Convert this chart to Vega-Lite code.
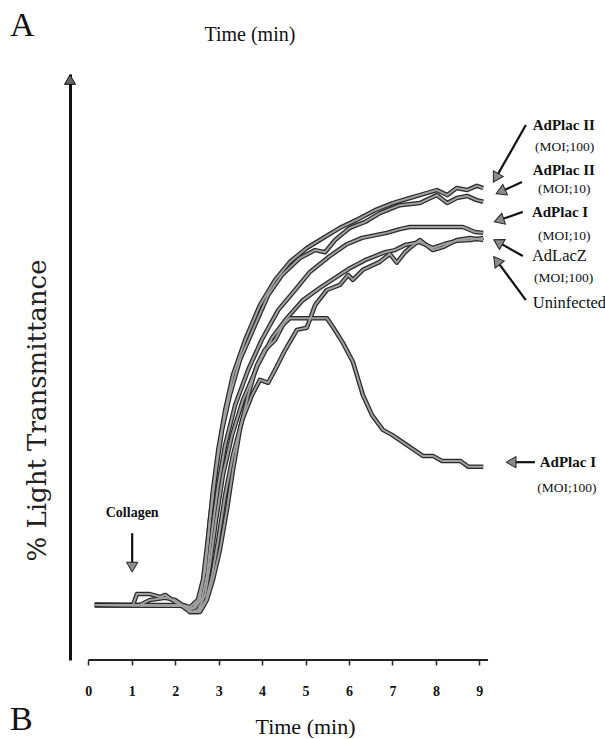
{
  "$schema": "https://vega.github.io/schema/vega-lite/v6.json",
  "width": 535,
  "height": 586,
  "autosize": {"type": "none"},
  "padding": {"left": 70, "top": 74, "right": 0, "bottom": 79},
  "background": "white",
  "config": {"view": {"stroke": null}, "font": "Liberation Serif"},
  "datasets": {
    "curves": [
      {"series":"AdPlac II (MOI;100)","t":0.15,"v":0},{"series":"AdPlac II (MOI;100)","t":0.96,"v":0},{"series":"AdPlac II (MOI;100)","t":1.03,"v":0},{"series":"AdPlac II (MOI;100)","t":1.12,"v":2.6},{"series":"AdPlac II (MOI;100)","t":1.42,"v":2.6},{"series":"AdPlac II (MOI;100)","t":1.65,"v":1.9},{"series":"AdPlac II (MOI;100)","t":1.77,"v":2.4},{"series":"AdPlac II (MOI;100)","t":2.0,"v":0.7},{"series":"AdPlac II (MOI;100)","t":2.16,"v":0},{"series":"AdPlac II (MOI;100)","t":2.34,"v":-0.5},{"series":"AdPlac II (MOI;100)","t":2.52,"v":1.2},{"series":"AdPlac II (MOI;100)","t":2.64,"v":6.0},{"series":"AdPlac II (MOI;100)","t":2.75,"v":15.5},{"series":"AdPlac II (MOI;100)","t":2.87,"v":27.4},{"series":"AdPlac II (MOI;100)","t":2.99,"v":36.9},{"series":"AdPlac II (MOI;100)","t":3.15,"v":46.4},{"series":"AdPlac II (MOI;100)","t":3.33,"v":54.8},{"series":"AdPlac II (MOI;100)","t":3.61,"v":63.1},{"series":"AdPlac II (MOI;100)","t":3.95,"v":71.4},{"series":"AdPlac II (MOI;100)","t":4.3,"v":77.4},{"series":"AdPlac II (MOI;100)","t":4.64,"v":81.7},{"series":"AdPlac II (MOI;100)","t":5.03,"v":85.0},{"series":"AdPlac II (MOI;100)","t":5.33,"v":86.9},{"series":"AdPlac II (MOI;100)","t":5.79,"v":89.8},{"series":"AdPlac II (MOI;100)","t":6.18,"v":91.7},{"series":"AdPlac II (MOI;100)","t":6.6,"v":94.0},{"series":"AdPlac II (MOI;100)","t":7.01,"v":95.7},{"series":"AdPlac II (MOI;100)","t":7.4,"v":96.9},{"series":"AdPlac II (MOI;100)","t":7.63,"v":97.6},{"series":"AdPlac II (MOI;100)","t":8.02,"v":98.8},{"series":"AdPlac II (MOI;100)","t":8.26,"v":97.6},{"series":"AdPlac II (MOI;100)","t":8.48,"v":99.3},{"series":"AdPlac II (MOI;100)","t":8.72,"v":98.8},{"series":"AdPlac II (MOI;100)","t":8.94,"v":99.8},{"series":"AdPlac II (MOI;100)","t":9.09,"v":99.3},
      {"series":"AdPlac II (MOI;10)","t":0.15,"v":0},{"series":"AdPlac II (MOI;10)","t":1.19,"v":0},{"series":"AdPlac II (MOI;10)","t":1.42,"v":1.2},{"series":"AdPlac II (MOI;10)","t":1.77,"v":1.7},{"series":"AdPlac II (MOI;10)","t":2.0,"v":1.2},{"series":"AdPlac II (MOI;10)","t":2.23,"v":-0.5},{"series":"AdPlac II (MOI;10)","t":2.41,"v":-0.7},{"series":"AdPlac II (MOI;10)","t":2.57,"v":1.7},{"series":"AdPlac II (MOI;10)","t":2.69,"v":8.3},{"series":"AdPlac II (MOI;10)","t":2.8,"v":20.2},{"series":"AdPlac II (MOI;10)","t":2.94,"v":32.1},{"series":"AdPlac II (MOI;10)","t":3.08,"v":41.7},{"series":"AdPlac II (MOI;10)","t":3.26,"v":50.0},{"series":"AdPlac II (MOI;10)","t":3.49,"v":58.3},{"series":"AdPlac II (MOI;10)","t":3.84,"v":66.7},{"series":"AdPlac II (MOI;10)","t":4.14,"v":73.8},{"series":"AdPlac II (MOI;10)","t":4.46,"v":78.6},{"series":"AdPlac II (MOI;10)","t":4.87,"v":82.6},{"series":"AdPlac II (MOI;10)","t":5.22,"v":84.5},{"series":"AdPlac II (MOI;10)","t":5.45,"v":84.0},{"series":"AdPlac II (MOI;10)","t":5.68,"v":86.9},{"series":"AdPlac II (MOI;10)","t":6.02,"v":89.8},{"series":"AdPlac II (MOI;10)","t":6.37,"v":91.2},{"series":"AdPlac II (MOI;10)","t":6.71,"v":93.3},{"series":"AdPlac II (MOI;10)","t":7.17,"v":95.2},{"series":"AdPlac II (MOI;10)","t":7.63,"v":95.7},{"series":"AdPlac II (MOI;10)","t":8.02,"v":97.6},{"series":"AdPlac II (MOI;10)","t":8.26,"v":95.7},{"series":"AdPlac II (MOI;10)","t":8.48,"v":96.9},{"series":"AdPlac II (MOI;10)","t":8.72,"v":97.4},{"series":"AdPlac II (MOI;10)","t":8.94,"v":96.4},{"series":"AdPlac II (MOI;10)","t":9.09,"v":96.0},
      {"series":"AdPlac I (MOI;10)","t":0.15,"v":0},{"series":"AdPlac I (MOI;10)","t":2.11,"v":0},{"series":"AdPlac I (MOI;10)","t":2.29,"v":-1.2},{"series":"AdPlac I (MOI;10)","t":2.46,"v":-0.7},{"series":"AdPlac I (MOI;10)","t":2.62,"v":1.7},{"series":"AdPlac I (MOI;10)","t":2.73,"v":7.1},{"series":"AdPlac I (MOI;10)","t":2.85,"v":17.9},{"series":"AdPlac I (MOI;10)","t":2.99,"v":28.6},{"series":"AdPlac I (MOI;10)","t":3.15,"v":38.1},{"series":"AdPlac I (MOI;10)","t":3.38,"v":47.6},{"series":"AdPlac I (MOI;10)","t":3.68,"v":56.0},{"series":"AdPlac I (MOI;10)","t":3.99,"v":63.1},{"series":"AdPlac I (MOI;10)","t":4.37,"v":70.2},{"series":"AdPlac I (MOI;10)","t":4.76,"v":75.0},{"series":"AdPlac I (MOI;10)","t":5.1,"v":79.3},{"series":"AdPlac I (MOI;10)","t":5.56,"v":83.1},{"series":"AdPlac I (MOI;10)","t":5.95,"v":85.9},{"series":"AdPlac I (MOI;10)","t":6.3,"v":87.4},{"series":"AdPlac I (MOI;10)","t":6.87,"v":88.6},{"series":"AdPlac I (MOI;10)","t":7.17,"v":89.5},{"series":"AdPlac I (MOI;10)","t":7.4,"v":90.0},{"series":"AdPlac I (MOI;10)","t":8.62,"v":90.0},{"series":"AdPlac I (MOI;10)","t":8.9,"v":88.8},{"series":"AdPlac I (MOI;10)","t":9.09,"v":88.6},
      {"series":"AdLacZ (MOI;100)","t":0.15,"v":0},{"series":"AdLacZ (MOI;100)","t":2.23,"v":-0.2},{"series":"AdLacZ (MOI;100)","t":2.34,"v":-1.7},{"series":"AdLacZ (MOI;100)","t":2.52,"v":-1.2},{"series":"AdLacZ (MOI;100)","t":2.69,"v":2.4},{"series":"AdLacZ (MOI;100)","t":2.8,"v":9.5},{"series":"AdLacZ (MOI;100)","t":2.94,"v":20.2},{"series":"AdLacZ (MOI;100)","t":3.1,"v":31.0},{"series":"AdLacZ (MOI;100)","t":3.31,"v":40.5},{"series":"AdLacZ (MOI;100)","t":3.56,"v":48.8},{"series":"AdLacZ (MOI;100)","t":3.9,"v":57.1},{"series":"AdLacZ (MOI;100)","t":4.23,"v":63.6},{"series":"AdLacZ (MOI;100)","t":4.57,"v":68.3},{"series":"AdLacZ (MOI;100)","t":4.94,"v":72.6},{"series":"AdLacZ (MOI;100)","t":5.33,"v":75.5},{"series":"AdLacZ (MOI;100)","t":5.68,"v":77.9},{"series":"AdLacZ (MOI;100)","t":6.02,"v":80.2},{"series":"AdLacZ (MOI;100)","t":6.37,"v":82.1},{"series":"AdLacZ (MOI;100)","t":6.83,"v":84.0},{"series":"AdLacZ (MOI;100)","t":7.06,"v":84.5},{"series":"AdLacZ (MOI;100)","t":7.29,"v":85.7},{"series":"AdLacZ (MOI;100)","t":7.63,"v":86.4},{"series":"AdLacZ (MOI;100)","t":7.93,"v":85.0},{"series":"AdLacZ (MOI;100)","t":8.21,"v":86.0},{"series":"AdLacZ (MOI;100)","t":8.48,"v":86.7},{"series":"AdLacZ (MOI;100)","t":8.79,"v":86.9},{"series":"AdLacZ (MOI;100)","t":9.09,"v":87.4},
      {"series":"Uninfected","t":0.15,"v":0},{"series":"Uninfected","t":2.16,"v":-0.2},{"series":"Uninfected","t":2.34,"v":-1.7},{"series":"Uninfected","t":2.52,"v":-1.7},{"series":"Uninfected","t":2.71,"v":1.2},{"series":"Uninfected","t":2.85,"v":7.1},{"series":"Uninfected","t":2.99,"v":15.5},{"series":"Uninfected","t":3.15,"v":26.2},{"series":"Uninfected","t":3.33,"v":35.7},{"series":"Uninfected","t":3.54,"v":44.0},{"series":"Uninfected","t":3.77,"v":50.0},{"series":"Uninfected","t":3.95,"v":53.6},{"series":"Uninfected","t":4.14,"v":52.9},{"series":"Uninfected","t":4.3,"v":56.0},{"series":"Uninfected","t":4.53,"v":60.7},{"series":"Uninfected","t":4.8,"v":65.5},{"series":"Uninfected","t":5.03,"v":66.0},{"series":"Uninfected","t":5.22,"v":71.4},{"series":"Uninfected","t":5.49,"v":75.0},{"series":"Uninfected","t":5.79,"v":76.2},{"series":"Uninfected","t":5.98,"v":78.6},{"series":"Uninfected","t":6.09,"v":77.4},{"series":"Uninfected","t":6.32,"v":79.8},{"series":"Uninfected","t":6.71,"v":81.7},{"series":"Uninfected","t":6.94,"v":83.6},{"series":"Uninfected","t":7.1,"v":81.5},{"series":"Uninfected","t":7.29,"v":84.0},{"series":"Uninfected","t":7.4,"v":85.0},{"series":"Uninfected","t":7.63,"v":86.9},{"series":"Uninfected","t":7.93,"v":84.5},{"series":"Uninfected","t":8.16,"v":85.2},{"series":"Uninfected","t":8.48,"v":86.9},{"series":"Uninfected","t":8.79,"v":87.4},{"series":"Uninfected","t":9.09,"v":86.9},
      {"series":"AdPlac I (MOI;100)","t":0.15,"v":0},{"series":"AdPlac I (MOI;100)","t":2.23,"v":-0.2},{"series":"AdPlac I (MOI;100)","t":2.39,"v":-1.7},{"series":"AdPlac I (MOI;100)","t":2.57,"v":-1.7},{"series":"AdPlac I (MOI;100)","t":2.73,"v":1.2},{"series":"AdPlac I (MOI;100)","t":2.87,"v":6.0},{"series":"AdPlac I (MOI;100)","t":3.03,"v":13.1},{"series":"AdPlac I (MOI;100)","t":3.19,"v":22.6},{"series":"AdPlac I (MOI;100)","t":3.33,"v":32.1},{"series":"AdPlac I (MOI;100)","t":3.49,"v":41.7},{"series":"AdPlac I (MOI;100)","t":3.68,"v":50.0},{"series":"AdPlac I (MOI;100)","t":3.88,"v":57.1},{"series":"AdPlac I (MOI;100)","t":4.06,"v":60.7},{"series":"AdPlac I (MOI;100)","t":4.3,"v":63.1},{"series":"AdPlac I (MOI;100)","t":4.48,"v":66.7},{"series":"AdPlac I (MOI;100)","t":4.64,"v":68.3},{"series":"AdPlac I (MOI;100)","t":5.49,"v":68.3},{"series":"AdPlac I (MOI;100)","t":5.63,"v":66.2},{"series":"AdPlac I (MOI;100)","t":5.86,"v":62.4},{"series":"AdPlac I (MOI;100)","t":6.09,"v":57.9},{"series":"AdPlac I (MOI;100)","t":6.32,"v":50.0},{"series":"AdPlac I (MOI;100)","t":6.53,"v":45.2},{"series":"AdPlac I (MOI;100)","t":6.78,"v":41.7},{"series":"AdPlac I (MOI;100)","t":6.99,"v":40.5},{"series":"AdPlac I (MOI;100)","t":7.33,"v":38.1},{"series":"AdPlac I (MOI;100)","t":7.7,"v":35.5},{"series":"AdPlac I (MOI;100)","t":7.93,"v":35.5},{"series":"AdPlac I (MOI;100)","t":8.14,"v":34.3},{"series":"AdPlac I (MOI;100)","t":8.56,"v":34.3},{"series":"AdPlac I (MOI;100)","t":8.75,"v":32.9},{"series":"AdPlac I (MOI;100)","t":9.09,"v":32.9}
    ],
    "arrows": [
      {"t":10.07,"v":114.3,"t2":9.38,"v2":101.7,"angle":209.7},
      {"t":9.98,"v":100.7,"t2":9.49,"v2":98.4,"angle":246},
      {"t":10.0,"v":93.6,"t2":9.45,"v2":91.6,"angle":251.6},
      {"t":10.0,"v":83.1,"t2":9.43,"v2":86.4,"angle":299.5},
      {"t":10.07,"v":72.6,"t2":9.4,"v2":82.0,"angle":323.1},
      {"t":10.28,"v":34.0,"t2":9.73,"v2":34.0,"angle":270},
      {"t":1.01,"v":17.1,"t2":1.01,"v2":9.0,"angle":180}
    ],
    "axisHead": [{"t": -0.421, "v": 125.1}],
    "axisLine": [{"t": 0, "t2": 9.2, "v": -13.1}],
    "labels": [
      {"label":"AdPlac II","role":"name","t":10.23,"v":114.3},
      {"label":"(MOI;100)","role":"moi","t":10.28,"v":109.0},
      {"label":"AdPlac II","role":"name","t":10.23,"v":103.6},
      {"label":"(MOI;10)","role":"moi","t":10.35,"v":99.0},
      {"label":"AdPlac I","role":"name","t":10.21,"v":93.6},
      {"label":"(MOI;10)","role":"moi","t":10.35,"v":87.9},
      {"label":"AdLacZ","role":"big","t":10.21,"v":83.1},
      {"label":"(MOI;100)","role":"moi","t":10.26,"v":77.9},
      {"label":"Uninfected","role":"big","t":10.23,"v":71.9},
      {"label":"AdPlac I","role":"name","t":10.39,"v":34.0},
      {"label":"(MOI;100)","role":"moi","t":10.33,"v":27.9}
    ],
    "collagen": [{"label":"Collagen","t":1.01,"v":21.9}],
    "panels": [{"label":"A","t":-1.8,"v":135.5},{"label":"B","t":-1.8,"v":-29.8}],
    "topTitle": [{"label":"Time (min)","t":3.72,"v":134.3}]
  },
  "encoding": {
    "x": {"field": "t", "type": "quantitative",
      "scale": {"domain": [-0.421, 11.892], "nice": false, "zero": false},
      "axis": {"values": [0,1,2,3,4,5,6,7,8,9], "domain": false, "grid": false,
        "ticks": true, "tickSize": 5, "tickColor": "#222", "tickWidth": 1.5,
        "labelFont": "Liberation Serif", "labelFontWeight": "bold", "labelFontSize": 14,
        "labelColor": "#111", "labelPadding": 19,
        "title": "Time (min)", "titleFont": "Liberation Serif", "titleFontSize": 22,
        "titleFontWeight": "normal", "titleColor": "#111", "titleX": 235, "titleY": 73,
        "titleBaseline": "alphabetic", "titleAlign": "center"}},
    "y": {"field": "v", "type": "quantitative",
      "scale": {"domain": [-13.1, 126.43], "nice": false, "zero": false},
      "axis": {"domain": true, "domainColor": "#111", "domainWidth": 3, "ticks": false,
        "labels": false, "grid": false, "title": "% Light Transmittance",
        "titleFont": "DejaVu Serif", "titleFontSize": 26, "titleFontWeight": "normal",
        "titleColor": "#222", "titleX": -33, "titleY": 336, "titleAngle": -90,
        "titleAlign": "center", "titleBaseline": "middle"}}
  },
  "layer": [
    {"data": {"name": "axisLine"}, "mark": {"type": "rule", "color": "#222", "strokeWidth": 2},
      "encoding": {"x2": {"field": "t2"}}},
    {"data": {"name": "axisHead"}, "mark": {"type": "point", "shape": "triangle-up", "filled": true, "fill": "#666", "stroke": "#111", "strokeWidth": 1, "size": 121, "opacity": 1}},
    {"data": {"name": "curves"}, "mark": {"type": "line", "color": "#2b2b2b", "strokeWidth": 4.5, "strokeJoin": "round"},
      "encoding": {"detail": {"field": "series"}}},
    {"data": {"name": "curves"}, "mark": {"type": "line", "color": "#a0a0a0", "strokeWidth": 2, "strokeJoin": "round"},
      "encoding": {"detail": {"field": "series"}}},
    {"data": {"name": "arrows"}, "mark": {"type": "rule", "color": "#111", "strokeWidth": 2.2},
      "encoding": {"x2": {"field": "t2"}, "y2": {"field": "v2"}}},
    {"data": {"name": "arrows"}, "mark": {"type": "point", "shape": "triangle-up", "filled": true, "fill": "#8a8a8a", "stroke": "#222", "strokeWidth": 1, "size": 130, "opacity": 1},
      "encoding": {"x": {"field": "t2", "type": "quantitative"}, "y": {"field": "v2", "type": "quantitative"}, "angle": {"field": "angle", "type": "quantitative", "scale": null}}},
    {"data": {"name": "labels"}, "transform": [{"filter": "datum.role === 'name'"}],
      "mark": {"type": "text", "align": "left", "baseline": "middle", "font": "Liberation Serif", "fontSize": 15, "fontWeight": "bold", "color": "#111"},
      "encoding": {"text": {"field": "label"}}},
    {"data": {"name": "labels"}, "transform": [{"filter": "datum.role === 'moi'"}],
      "mark": {"type": "text", "align": "left", "baseline": "middle", "font": "Liberation Serif", "fontSize": 13.5, "fontWeight": "normal", "color": "#111"},
      "encoding": {"text": {"field": "label"}}},
    {"data": {"name": "labels"}, "transform": [{"filter": "datum.role === 'big'"}],
      "mark": {"type": "text", "align": "left", "baseline": "middle", "font": "Liberation Serif", "fontSize": 16.5, "fontWeight": "normal", "color": "#111"},
      "encoding": {"text": {"field": "label"}}},
    {"data": {"name": "collagen"},
      "mark": {"type": "text", "align": "center", "baseline": "middle", "font": "Liberation Serif", "fontSize": 14, "fontWeight": "bold", "color": "#111"},
      "encoding": {"text": {"field": "label"}}},
    {"data": {"name": "panels"},
      "mark": {"type": "text", "align": "left", "baseline": "alphabetic", "font": "Liberation Serif", "fontSize": 34, "fontWeight": "normal", "color": "#111"},
      "encoding": {"text": {"field": "label"}}},
    {"data": {"name": "topTitle"},
      "mark": {"type": "text", "align": "center", "baseline": "alphabetic", "font": "Liberation Serif", "fontSize": 20, "fontWeight": "normal", "color": "#111"},
      "encoding": {"text": {"field": "label"}}}
  ]
}
